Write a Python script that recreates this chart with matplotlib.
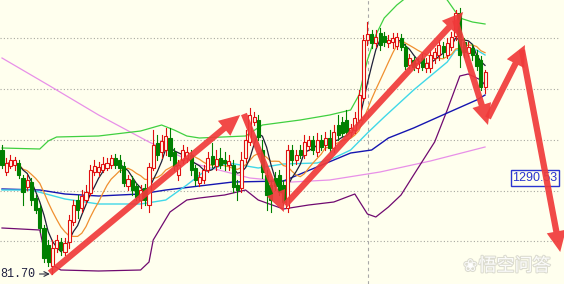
import numpy as np
import pandas as pd
import matplotlib
matplotlib.use('Agg')
import matplotlib.pyplot as plt
from matplotlib.patches import Rectangle, FancyArrowPatch
import matplotlib.patheffects as pe

# candle data (price)
opens = [1294.1, 1291.9, 1292.5, 1292.6, 1292.8, 1291.3, 1290.4, 1290.9, 1289.3, 1288.3,
         1286.3, 1284.6, 1282.5, 1284.3, 1284.9, 1283.9, 1284.9, 1286.9, 1289.1, 1288.3,
         1289.1, 1289.8, 1291.9, 1291.9, 1292.1, 1292.3, 1292.6, 1293.3, 1293.1, 1292.5,
         1290.5, 1291.1, 1290.5, 1289.1, 1290.3, 1288.6, 1292.3, 1294.8, 1293.9, 1294.1,
         1295.3, 1293.9, 1291.6, 1293.1, 1293.3, 1293.6, 1292.3, 1290.8, 1291.1, 1292.1,
         1293.5, 1292.5, 1293.3, 1293.1, 1292.6, 1292.6, 1290.6, 1290.3, 1293.3, 1294.9,
         1296.9, 1297.1, 1294.1, 1291.6, 1290.6, 1291.3, 1291.6, 1290.6, 1288.3, 1294.1,
         1293.1, 1294.1, 1293.6, 1294.5, 1295.1, 1293.9, 1295.1, 1294.6, 1295.3, 1294.3,
         1296.6, 1296.9, 1297.1, 1295.9, 1296.1, 1297.1, 1299.3, 1305.1, 1305.7, 1304.8,
         1305.8, 1305.5, 1304.8, 1304.9, 1304.5, 1305.3, 1304.4, 1302.6, 1303.1, 1302.3,
         1303.3, 1302.3, 1302.3, 1303.3, 1303.6, 1304.5, 1303.6, 1304.4, 1305.5, 1307.8,
         1304.9, 1303.8, 1304.3, 1303.6, 1303.1, 1300.4]
highs = [1294.6, 1293.3, 1293.6, 1293.4, 1293.1, 1291.6, 1291.6, 1291.3, 1289.6, 1288.6,
         1286.6, 1285.1, 1285.1, 1285.6, 1285.3, 1285.3, 1287.6, 1289.1, 1289.6, 1290.1,
         1290.6, 1292.6, 1293.1, 1292.9, 1293.4, 1293.3, 1293.6, 1293.7, 1293.6, 1292.9,
         1291.6, 1291.5, 1290.8, 1290.6, 1290.7, 1292.8, 1296.1, 1295.6, 1295.6, 1296.3,
         1296.3, 1294.3, 1293.1, 1294.6, 1294.4, 1294.1, 1292.6, 1291.9, 1292.6, 1293.9,
         1294.8, 1294.1, 1294.3, 1293.9, 1293.6, 1293.1, 1291.1, 1293.9, 1296.1, 1298.3,
         1297.9, 1297.6, 1295.1, 1292.1, 1291.1, 1291.9, 1292.1, 1291.1, 1294.6, 1294.6,
         1294.1, 1294.6, 1295.6, 1295.5, 1295.5, 1295.8, 1295.6, 1295.9, 1296.1, 1296.6,
         1297.6, 1297.4, 1298.1, 1296.7, 1297.9, 1300.1, 1305.6, 1306.9, 1306.1, 1306.1,
         1306.3, 1305.9, 1305.6, 1305.8, 1305.8, 1305.7, 1304.7, 1303.7, 1303.4, 1303.3,
         1303.7, 1303.3, 1304.1, 1304.3, 1305.1, 1304.9, 1305.3, 1305.9, 1308.1, 1308.3,
         1305.3, 1304.9, 1304.7, 1304.1, 1303.5, 1302.1]
lows = [1292.3, 1291.6, 1292.3, 1292.1, 1291.3, 1288.6, 1290.1, 1288.6, 1287.8, 1285.9,
        1282.9, 1282.5, 1281.7, 1283.9, 1283.6, 1283.6, 1284.3, 1286.6, 1287.3, 1287.9,
        1288.8, 1289.6, 1291.6, 1291.5, 1291.9, 1292.1, 1292.3, 1292.3, 1291.9, 1290.5,
        1290.1, 1289.6, 1289.1, 1288.3, 1288.6, 1287.9, 1292.1, 1293.1, 1293.3, 1293.6,
        1293.1, 1292.1, 1291.1, 1292.8, 1292.9, 1291.6, 1290.6, 1290.5, 1290.8, 1291.9,
        1292.4, 1292.1, 1292.3, 1292.1, 1292.1, 1289.9, 1289.1, 1289.9, 1292.9, 1294.6,
        1296.6, 1295.1, 1291.3, 1288.1, 1287.9, 1290.1, 1289.6, 1288.6, 1287.9, 1292.6,
        1292.7, 1293.3, 1293.3, 1294.1, 1293.7, 1293.5, 1294.1, 1294.1, 1293.9, 1293.9,
        1295.1, 1295.5, 1295.6, 1295.5, 1295.8, 1296.9, 1299.1, 1304.6, 1304.3, 1304.4,
        1304.1, 1304.5, 1304.4, 1304.3, 1304.2, 1304.1, 1302.2, 1302.3, 1302.1, 1301.9,
        1302.1, 1301.9, 1301.9, 1302.8, 1303.1, 1303.4, 1303.3, 1304.1, 1305.1, 1302.4,
        1303.4, 1303.5, 1303.1, 1302.1, 1300.1, 1299.8]
closes = [1292.6, 1292.8, 1293.1, 1293.1, 1291.6, 1289.9, 1291.1, 1289.1, 1288.1, 1286.3,
          1283.3, 1282.9, 1284.3, 1285.1, 1284.1, 1284.8, 1287.1, 1288.6, 1288.1, 1289.5,
          1289.9, 1292.1, 1292.5, 1292.4, 1292.7, 1292.8, 1293.3, 1292.6, 1292.3, 1290.8,
          1291.2, 1290.1, 1289.4, 1290.1, 1289.1, 1292.4, 1294.6, 1293.6, 1295.0, 1295.5,
          1293.5, 1292.5, 1292.6, 1294.1, 1293.9, 1292.1, 1291.1, 1291.4, 1292.1, 1293.3,
          1292.7, 1293.2, 1292.6, 1292.8, 1293.0, 1290.4, 1290.1, 1293.1, 1295.1, 1297.6,
          1297.4, 1295.4, 1291.9, 1289.6, 1289.1, 1290.5, 1289.9, 1288.9, 1294.1, 1293.1,
          1293.6, 1293.6, 1294.9, 1295.1, 1294.1, 1295.1, 1294.4, 1295.3, 1294.3, 1295.9,
          1295.6, 1295.8, 1295.9, 1296.3, 1297.3, 1299.6, 1305.1, 1305.7, 1304.8, 1305.4,
          1304.6, 1304.9, 1305.1, 1305.3, 1305.4, 1304.4, 1302.5, 1303.3, 1302.4, 1302.8,
          1302.4, 1302.8, 1303.6, 1303.9, 1304.6, 1303.9, 1304.8, 1305.4, 1307.8, 1303.6,
          1303.9, 1304.4, 1303.6, 1302.5, 1300.4, 1301.9]

# indicator lines (candle index, price)
upper_idx = [0, 9, 11, 13, 23, 33, 38, 41, 44, 47, 58, 62, 71, 78, 83, 85, 87, 89, 91, 94,
             97, 101, 104, 106, 109, 112, 115]
upper_val = [1294.3, 1294.2, 1295.0, 1295.4, 1295.5, 1296.0, 1296.6, 1296.1, 1295.5, 1295.3,
             1295.5, 1296.6, 1297.1, 1297.6, 1298.1, 1299.6, 1303.1, 1305.6, 1307.3, 1308.6,
             1309.6, 1310.6, 1309.9, 1309.1, 1307.3, 1306.9, 1306.7]
lower_idx = [0, 9, 10, 12, 14, 23, 33, 35, 36, 40, 44, 47, 53, 58, 61, 67, 73, 79, 84, 87,
             89, 92, 95, 98, 103, 106, 109, 111, 114, 115]
lower_val = [1286.3, 1286.1, 1284.1, 1282.6, 1282.1, 1282.0, 1282.1, 1282.9, 1285.1, 1287.9,
             1289.1, 1289.3, 1289.6, 1290.1, 1289.1, 1288.2, 1288.6, 1288.9, 1289.7, 1287.7,
             1287.4, 1288.4, 1289.6, 1291.6, 1294.9, 1298.1, 1301.5, 1301.7, 1301.1, 1300.6]
blue_idx = [0, 9, 15, 23, 33, 39, 47, 55, 67, 75, 83, 88, 92, 98, 106, 113, 115]
blue_val = [1290.2, 1290.1, 1289.7, 1289.5, 1289.7, 1290.1, 1290.5, 1290.9, 1291.0, 1292.4,
            1293.8, 1294.1, 1295.3, 1296.3, 1297.8, 1299.1, 1299.6]
cyan_idx = [0, 7, 15, 23, 33, 39, 44, 48, 54, 61, 67, 75, 79, 83, 87, 91, 98, 106, 108, 113, 115]
cyan_val = [1290.1, 1290.1, 1289.2, 1288.7, 1288.7, 1289.1, 1290.6, 1291.9, 1292.8, 1292.3,
            1292.7, 1292.8, 1293.3, 1294.1, 1295.8, 1297.4, 1300.1, 1302.9, 1304.1, 1304.1, 1303.6]
pink_idx = [0, 11, 23, 35, 47, 59, 69, 78, 90, 102, 115]
pink_val = [1303.3, 1300.6, 1297.6, 1294.9, 1292.6, 1291.3, 1290.9, 1291.1, 1291.9, 1293.0, 1294.4]

# hand drawn arrows (index, price) tail -> head
arrows = [((11.4, 1281.8), (56.7, 1297.6)),
          ((57.6, 1297.7), (67.1, 1287.9)),
          ((67.4, 1288.6), (109.8, 1307.9)),
          ((107.9, 1307.1), (115.7, 1296.6)),
          ((115.7, 1297.3), (124.5, 1304.6)),
          ((123.8, 1304.1), (132.9, 1283.9))]

grid_levels = [1305.3, 1300.2, 1295.1, 1290.0, 1285.0]
low_label = '81.70'
cursor_label = '1290.53'

bg = '#FFFFEE'
fig = plt.figure(figsize=(5.64, 2.84), dpi=100)
fig.patch.set_facecolor(bg)
ax = fig.add_axes([0, 0, 1, 1])
ax.set_facecolor(bg)
ax.set_xlim(-0.476, 133.8)
ax.set_ylim(1280.7, 1309.1)
ax.axis('off')

for g in grid_levels:
    ax.axhline(g, xmax=0.993, color='#A8A8A0', lw=0.8, ls=(0, (1, 2)), zorder=1)
ax.axvline(87.1, color='#A8A8A8', lw=0.8, ls=(0, (3, 3)), zorder=1)

ax.plot(pink_idx, pink_val, color='#E890E8', lw=0.9, zorder=2)
ax.plot(upper_idx, upper_val, color='#40D040', lw=0.9, zorder=2)
ax.plot(lower_idx, lower_val, color='#700A70', lw=0.9, zorder=2)
ax.plot(blue_idx, blue_val, color='#1515B0', lw=1.0, zorder=2)
ax.plot(cyan_idx, cyan_val, color='#40D8E8', lw=1.0, zorder=2)

c = pd.Series(closes)
ma5 = c.rolling(5, min_periods=1).mean()
ma10 = c.rolling(10, min_periods=1).mean()
ax.plot(ma10.index, ma10.values, color='#F09030', lw=0.9, zorder=2)
ax.plot(ma5.index, ma5.values, color='#202038', lw=0.9, zorder=2)

w = 0.72
for i in range(len(closes)):
    o, h, l, cl = opens[i], highs[i], lows[i], closes[i]
    if cl >= o:
        col = '#E01010'
        ax.plot([i, i], [l, o], color=col, lw=0.8, zorder=3)
        ax.plot([i, i], [cl, h], color=col, lw=0.8, zorder=3)
        ax.add_patch(Rectangle((i - w / 2, o), w, max(cl - o, 0.05), facecolor=bg,
                               edgecolor=col, lw=0.8, zorder=4))
    else:
        col = '#008000'
        ax.plot([i, i], [l, h], color=col, lw=0.8, zorder=3)
        ax.add_patch(Rectangle((i - w / 2, cl), w, o - cl, facecolor=col,
                               edgecolor=col, lw=0.8, zorder=4))

ax.text(126.9, 1291.3, cursor_label, ha='center', va='center', fontsize=9,
        family='Liberation Sans', color='#2A35D0', zorder=5,
        bbox=dict(boxstyle='square,pad=0.15', facecolor=bg, edgecolor='#2A35D0', lw=1))

for tail, head in arrows:
    ax.add_patch(FancyArrowPatch(tail, head, shrinkA=0, shrinkB=0, mutation_scale=1,
                                 arrowstyle='simple,head_width=14,head_length=15,tail_width=4.5',
                                 color='#F03A3A', alpha=0.92, lw=0, zorder=6))

ax.annotate(low_label, xy=(11.4, lows[12]), xytext=(-0.4, lows[12]),
            ha='left', va='center', fontsize=8.5, family='Liberation Mono', color='#202040',
            arrowprops=dict(arrowstyle='->', color='#303040', lw=0.8, shrinkA=1, shrinkB=0),
            zorder=7)

ax.text(111.5, 1282.5, '❀', fontsize=12, color='white', ha='center', va='center',
        family=['DejaVu Sans'], alpha=0.9, zorder=8,
        path_effects=[pe.withStroke(linewidth=1.5, foreground='#D8D8CC')])
ax.text(122.0, 1282.5, '悟空问答', fontsize=13, color='white', ha='center', va='center',
        family=['Noto Sans CJK SC', 'DejaVu Sans'], alpha=0.9, zorder=8,
        path_effects=[pe.withStroke(linewidth=1.5, foreground='#D8D8CC')])

fig.savefig('out.png', dpi=100, facecolor=bg)
